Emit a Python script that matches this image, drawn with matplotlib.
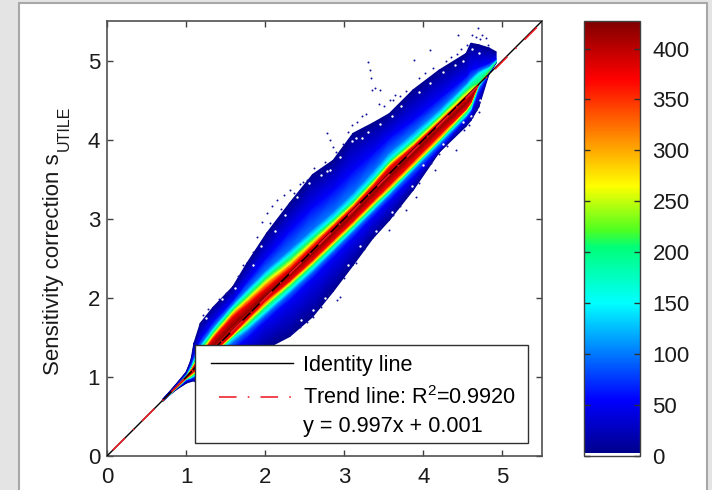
import numpy as np
import matplotlib
matplotlib.use("Agg")
import matplotlib.pyplot as plt
from matplotlib.colors import LinearSegmentedColormap, Normalize
from matplotlib.lines import Line2D
from matplotlib.patches import Rectangle

plt.rcParams['font.family'] = ['Liberation Sans', 'DejaVu Sans']
plt.rcParams['mathtext.fontset'] = 'custom'
plt.rcParams['mathtext.rm'] = 'Liberation Sans'
plt.rcParams['mathtext.default'] = 'regular'

# =============================
# DATA
# =============================
# x stations along the cloud
stations = [0.70, 0.85, 1.00, 1.06, 1.10, 1.18, 1.34, 1.59, 1.77, 2.02, 2.31, 2.60,
            2.86, 3.11, 3.36, 3.57, 3.87, 4.20, 4.54, 4.60, 4.70, 4.83, 4.92]

# count levels crossed going from the bottom of the cloud to the top
levels = [4, 55, 100, 150, 210, 265, 370, 420, 370, 265, 210, 150, 100, 55, 4]

# distance y - x of each level contour at each station
edge_up   = [.010, .030, .060, .150, .330, .500, .540, .550, .670, .800, .890, .960, .880, .970, .850, .760, .760, .680, .550, .620, .500, .330, .190]
blue_up   = [.010, .020, .050, .120, .200, .300, .360, .380, .440, .500, .540, .550, .500, .500, .470, .460, .380, .320, .260, .280, .220, .140, .100]
sky_up    = [.007, .017, .035, .085, .150, .230, .290, .330, .340, .340, .300, .270, .230, .220, .240, .270, .220, .180, .170, .180, .170, .100, .090]
cyan_up   = [.005, .015, .030, .070, .120, .200, .260, .300, .300, .290, .240, .200, .160, .150, .160, .190, .150, .120, .130, .140, .140, .080, .080]
green_up  = [.004, .012, .025, .055, .090, .160, .220, .260, .250, .240, .180, .150, .120, .100, .120, .150, .110, .090, .080, .070, .020, .040, .070]
yellow_up = [.003, .010, .020, .045, .070, .130, .190, .230, .210, .190, .125, .105, .085, .075, .095, .125, .075, .055, .035, .030, .015, .040, .070]
red_up    = [.002, .008, .015, .030, .050, .100, .150, .175, .145, .110, .060, .055, .045, .035, .055, .085, .045, .025, .005, -.010, .012, .040, .070]
ridge     = [.000, .000, .000, .000, .010, .040, .060, .070, .050, .030, -.020, -.040, -.050, -.060, -.050, -.040, -.050, -.060, -.080, -.070, .010, .040, .070]
red_low   = [-.002, -.008, -.015, -.025, -.030, -.030, -.030, -.045, -.040, -.040, -.095, -.120, -.130, -.140, -.140, -.145, -.145, -.145, -.155, -.130, .008, .040, .070]
yellow_low = [-.003, -.010, -.020, -.040, -.050, -.050, -.050, -.065, -.075, -.090, -.130, -.160, -.170, -.180, -.180, -.190, -.195, -.195, -.170, -.150, .005, .040, .070]
green_low = [-.004, -.012, -.025, -.055, -.065, -.065, -.065, -.080, -.110, -.120, -.160, -.185, -.195, -.205, -.205, -.215, -.215, -.215, -.195, -.170, .000, .035, .070]
cyan_low  = [-.005, -.015, -.030, -.070, -.085, -.090, -.090, -.100, -.150, -.180, -.210, -.230, -.240, -.240, -.240, -.240, -.230, -.230, -.230, -.210, -.020, .030, .070]
sky_low   = [-.006, -.017, -.035, -.075, -.095, -.120, -.130, -.150, -.190, -.220, -.250, -.270, -.270, -.270, -.270, -.270, -.260, -.260, -.250, -.230, -.050, .020, .065]
blue_low  = [-.008, -.020, -.050, -.090, -.110, -.180, -.220, -.250, -.280, -.300, -.340, -.350, -.350, -.350, -.340, -.340, -.340, -.320, -.280, -.260, -.120, .010, .060]
edge_low  = [-.010, -.030, -.080, -.120, -.150, -.300, -.450, -.500, -.600, -.660, -.800, -.840, -.780, -.700, -.610, -.590, -.510, -.360, -.370, -.360, -.290, .000, .050]

# loose points around the fringe of the cloud
speck_x = [1.90, 1.96, 2.02, 2.09, 2.15, 2.24, 2.31, 2.44, 2.53, 2.78, 2.82, 2.86, 3.30, 3.32,
           3.34, 3.35, 3.39, 3.45, 3.58, 3.64, 3.88, 4.08, 4.44, 4.69, 4.74, 4.79, 4.15, 4.41,
           4.70, 4.58, 4.39, 3.91, 3.78, 3.57, 2.60, 2.53, 2.44, 2.35, 2.95, 2.91,
           1.22, 1.28, 1.42, 1.50, 1.65, 1.72, 1.84, 2.06, 2.20, 2.36, 2.48, 2.62, 2.70, 2.75,
           2.90, 2.98, 3.05, 3.10, 3.16, 3.22, 3.28, 3.44, 3.50, 3.62, 3.70, 3.78, 3.95, 4.02,
           4.12, 4.28, 4.35, 4.42, 4.48, 4.55, 4.62, 4.66, 4.72, 4.82,
           2.70, 2.80, 3.00, 3.15, 3.25, 3.45, 3.62, 3.70, 3.95, 4.10, 4.20, 4.30, 4.45, 4.52,
           4.62, 4.66]
speck_y = [2.77, 2.96, 3.07, 3.16, 3.24, 3.30, 3.36, 3.44, 3.49, 4.08, 3.99, 3.91, 4.98, 4.88,
           4.78, 4.63, 4.65, 4.63, 4.50, 4.56, 5.01, 5.13, 5.32, 5.41, 5.32, 5.28, 3.62, 3.87,
           4.35, 4.18, 4.08, 3.27, 3.11, 2.86, 1.76, 1.69, 1.63, 1.57, 2.01, 1.97,
           1.78, 1.86, 1.98, 2.06, 2.28, 2.42, 2.58, 2.95, 3.12, 3.32, 3.47, 3.64, 3.62, 3.72,
           3.85, 3.95, 4.10, 4.18, 4.22, 4.30, 4.32, 4.45, 4.42, 4.50, 4.55, 4.62, 4.78, 4.84,
           4.90, 5.00, 5.05, 5.08, 5.15, 5.20, 5.32, 5.30, 5.27, 5.20,
           1.88, 2.05, 2.25, 2.44, 2.62, 2.90, 3.05, 3.16, 3.45, 3.70, 3.82, 3.92, 4.12, 4.12,
           4.28, 4.38]

# white holes just inside the fringe
hole_x = [1.25, 1.45, 1.62, 1.85, 1.95, 2.12, 2.25, 2.40, 2.55, 2.70, 2.78, 2.82, 2.95, 3.10,
          3.15, 3.22, 3.30, 3.45, 3.60, 3.72, 3.95, 4.08, 4.25, 4.40, 4.50, 4.62, 4.70,
          2.45, 2.60, 2.75, 3.05, 3.20, 3.40, 3.60, 3.85, 4.00, 4.25, 4.50, 4.60, 4.72]
hole_y = [1.75, 1.98, 2.13, 2.42, 2.65, 2.85, 3.05, 3.28, 3.45, 3.55, 3.60, 3.62, 3.78, 3.98,
          4.02, 4.02, 4.10, 4.20, 4.30, 4.42, 4.60, 4.72, 4.85, 4.95, 5.00, 5.15, 5.10,
          1.72, 1.85, 2.00, 2.42, 2.65, 2.85, 3.08, 3.42, 3.68, 3.95, 4.22, 4.30, 4.50]

# colormap nodes
cmap_values = [0, 3, 3.01, 55, 150, 205, 222, 265, 370, 427]
cmap_colors = ["#ffffff", "#ffffff", "#00008c", "#0000ff", "#00ffff", "#00ff78",
               "#50ff20", "#ffff00", "#ff0000", "#800000"]
cbar_ticks = [0, 50, 100, 150, 200, 250, 300, 350, 400]
axis_ticks = [0, 1, 2, 3, 4, 5]

trend_slope = 0.997
trend_icpt = 0.001

# =============================
# FIGURE AND PANEL
# =============================
W, H = 712, 490
fig = plt.figure(figsize=(W / 100, H / 100), dpi=100, facecolor="#e4e4e4")
panel = Rectangle((19 / W, -0.01), (707 - 19) / W, (H - 3) / H + 0.01, transform=fig.transFigure,
                  facecolor="white", edgecolor="#a8a8a8", linewidth=1.5, zorder=-1)
fig.add_artist(panel)

ax = fig.add_axes([107 / W, (H - 456) / H, 435 / W, 435 / H])
cax = fig.add_axes([584 / W, (H - 456) / H, 56 / W, 435 / H])

vmax = cmap_values[-1]
cmap = LinearSegmentedColormap.from_list("cloud", [(v / vmax, c) for v, c in zip(cmap_values, cmap_colors)], N=512)
norm = Normalize(0, vmax)

# =============================
# CLOUD
# =============================
x_st = np.array(stations)
offsets = np.array([edge_low, blue_low, sky_low, cyan_low, green_low, yellow_low, red_low, ridge,
                    red_up, yellow_up, green_up, cyan_up, sky_up, blue_up, edge_up])
X = np.tile(x_st, (len(levels), 1))
Y = X + offsets
C = np.tile(np.array(levels, dtype=float)[:, None], (1, len(stations)))
mesh = ax.pcolormesh(X, Y, C, shading="gouraud", cmap=cmap, norm=norm, rasterized=True)
ax.scatter(hole_x, hole_y, s=3, color="white", linewidths=0, zorder=2)
ax.scatter(speck_x, speck_y, s=2, color="#1010a0", linewidths=0, zorder=2)

# =============================
# LINES
# =============================
line_x = np.array([0, 5.5])
dashdot = (21, (11, 7, 1, 7))
ax.plot(line_x, line_x, color="black", lw=1.0, zorder=3)
ax.plot(line_x, trend_slope * line_x + trend_icpt, color="#ee1c25", lw=1.15, ls=dashdot, zorder=4)

# =============================
# AXES
# =============================
ax.set_xlim(0, 5.5)
ax.set_ylim(0, 5.5)
ax.set_xticks(axis_ticks)
ax.set_yticks(axis_ticks)
ax.tick_params(direction="in", top=True, right=True, length=4, width=1, color="#404040",
               labelsize=16, pad=5, labelcolor="#1a1a1a")
ax.tick_params(axis="x", pad=8)
for s in ax.spines.values():
    s.set_color("#505050")
    s.set_linewidth(1.2)

# y label with the subscript set apart, as far out as in the original
fig.text(64.5 / W, (H - 375) / H, "Sensitivity correction s", rotation=90, ha="right", va="bottom",
         fontsize=16, color="#1a1a1a")
fig.text(72 / W, (H - 151) / H, "UTILE", rotation=90, ha="right", va="bottom",
         fontsize=11.5, color="#1a1a1a")

handles = [Line2D([], [], color="black", lw=1.0),
           Line2D([], [], color="#ee1c25", lw=1.15, ls=dashdot),
           Line2D([], [], color="none")]
labels = ["Identity line", "Trend line: R$^{2}$=0.9920", "y = 0.997x + 0.001"]
leg = ax.legend(handles, labels, loc="lower left", bbox_to_anchor=((194.5 - 107) / 435, (456 - 443) / 435),
                borderaxespad=0, fontsize=15.6, fancybox=False, framealpha=1, edgecolor="#303030",
                handlelength=4.0, handletextpad=0.46, labelspacing=0.22, borderpad=0.55)
leg.get_frame().set_linewidth(1.0)

# nudge the legend rows to the uneven spacing of the original (pixels, up positive)
row_shift = [2, -4, -6]
for txt, dy, line in zip(leg.get_texts(), row_shift, leg.get_lines()):
    txt.set_y(dy)
    line.set_ydata(np.asarray(line.get_ydata()) + dy * 0.72)
    xd = np.array(line.get_xdata(), dtype=float)
    xd[0] += 3
    line.set_xdata(xd)

# =============================
# COLORBAR
# =============================
cb = fig.colorbar(mesh, cax=cax, ticks=cbar_ticks)
cb.solids.set_rasterized(True)
cax.tick_params(direction="in", left=True, right=True, length=4, width=1, color="#303030",
                labelsize=16, pad=9, labelcolor="#1a1a1a")
cb.outline.set_edgecolor("#404040")
cb.outline.set_linewidth(1.0)

fig.savefig("out.png", dpi=100, facecolor=fig.get_facecolor())
